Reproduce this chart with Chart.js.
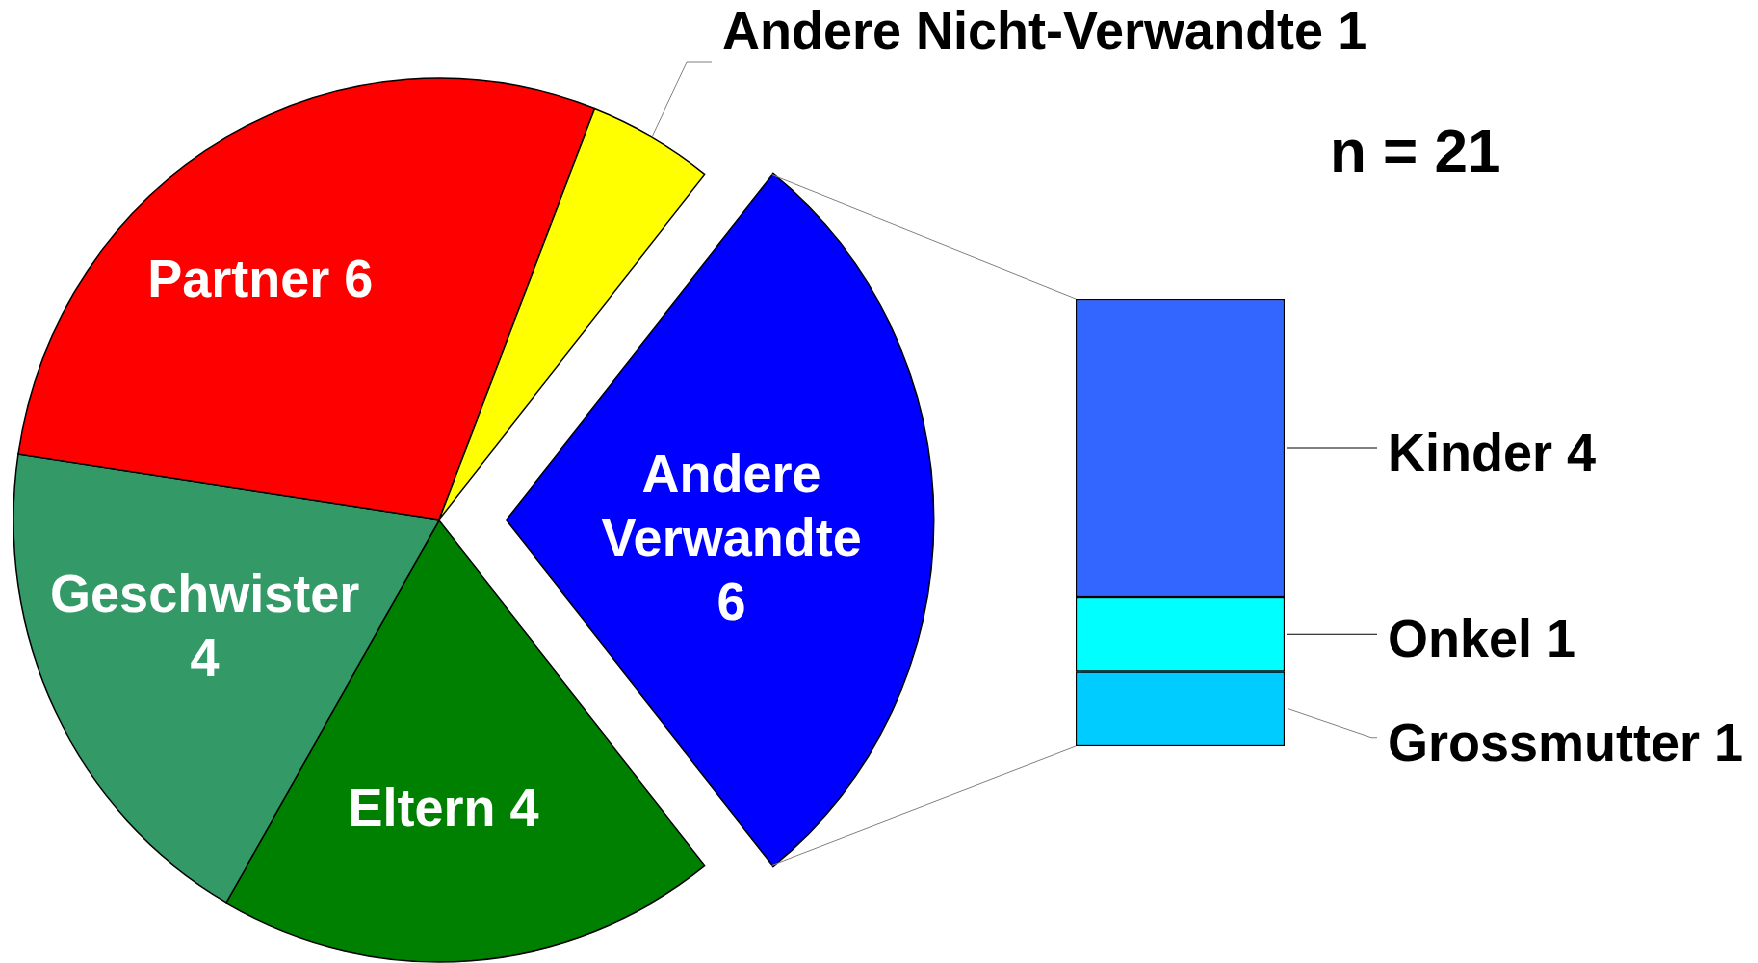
<!DOCTYPE html>
<html lang="de">
<head>
<meta charset="utf-8">
<title>Bezugspersonen</title>
<script src="https://cdn.jsdelivr.net/npm/chart.js@4.4.1/dist/chart.umd.min.js"></script>
<style>
  html, body { margin: 0; padding: 0; background: #fff; overflow: hidden; }
  /* the original picture is slightly squeezed horizontally */
  #stage { position: relative; width: 1824px; height: 963px; transform: scaleX(0.963); transform-origin: 0 0; }
  .layer { position: absolute; left: 0; top: 0; width: 1824px; height: 963px; }
</style>
</head>
<body>
<div id="stage">
  <div class="layer"><canvas id="pieChart"></canvas></div>
  <div class="layer"><canvas id="barChart"></canvas></div>
</div>
<script>
// pie: clockwise, starting with the exploded slice
const pieLabels = ['Andere Verwandte', 'Eltern', 'Geschwister', 'Partner', 'Andere Nicht-Verwandte'];
const pieValues = [6, 4, 4, 6, 1];
const pieColors = ['#0000ff', '#008000', '#339966', '#ff0000', '#ffff00'];

// bar of the exploded slice, bottom to top
const barLabels = ['Grossmutter', 'Onkel', 'Kinder'];
const barValues = [1, 1, 4];
const barColors = ['#00ccff', '#00ffff', '#3366ff'];

const FONT = '"Liberation Sans", Arial, Helvetica, sans-serif';
const EXPLODE = 280;   // arc offset option (drawn at a quarter of it)

// label placement inside the pie: angle nudge (deg) and distance (fraction of radius)
const labelNudge = [4.2, 3.4, 2.3, -7.5, 0];
const labelDist = [0.53, 0.65, 0.60, 0.69, 0];
const labelWrap = [true, false, true, false, false];

const total = pieValues.reduce((a, b) => a + b, 0);
const barTotal = barValues.reduce((a, b) => a + b, 0);
const startRotation = 90 - pieValues[0] / total * 180;

function drawLines(ctx, lines, x, y, lh){
  const top = y - (lines.length - 1) * lh / 2;
  lines.forEach((t, k) => ctx.fillText(t, x, top + k * lh + 19));
}

const pieLabelPlugin = {
  id: 'pieLabels',
  afterDraw(chart){
    const ctx = chart.ctx;
    const arcs = chart.getDatasetMeta(0).data;
    ctx.save();
    ctx.font = 'bold 54px ' + FONT;
    ctx.textAlign = 'center';
    ctx.textBaseline = 'alphabetic';
    arcs.forEach((arc, i) => {
      const mid = (arc.startAngle + arc.endAngle) / 2;
      const off = (arc.options.offset || 0) / 4;
      const cx = arc.x + Math.cos(mid) * off;
      const cy = arc.y + Math.sin(mid) * off;
      const R = arc.outerRadius;
      const text = pieLabels[i] + ' ' + pieValues[i];
      if (i === pieValues.length - 1) {
        // small slice: label outside with leader line
        const sx = cx + Math.cos(mid) * R, sy = cy + Math.sin(mid) * R;
        ctx.strokeStyle = '#808080';
        ctx.lineWidth = 1;
        ctx.beginPath();
        ctx.moveTo(sx, sy);
        ctx.lineTo(713, 62);
        ctx.lineTo(739, 62);
        ctx.stroke();
        ctx.fillStyle = '#000';
        ctx.textAlign = 'left';
        ctx.fillText(text, 750, 49);
        ctx.textAlign = 'center';
        return;
      }
      const a = mid + labelNudge[i] * Math.PI / 180;
      const lx = cx + Math.cos(a) * R * labelDist[i];
      const ly = cy + Math.sin(a) * R * labelDist[i];
      ctx.fillStyle = '#fff';
      drawLines(ctx, labelWrap[i] ? text.split(' ') : [text], lx, ly, 64);
    });
    ctx.restore();
  }
};

const pieChart = new Chart(document.getElementById('pieChart'), {
  type: 'pie',
  data: {
    labels: pieLabels,
    datasets: [{
      data: pieValues,
      backgroundColor: pieColors,
      borderColor: '#000',
      borderWidth: 1.5,
      borderJoinStyle: 'miter',
      offset: pieValues.map((v, i) => i === 0 ? EXPLODE : 0),
      rotation: startRotation,
      radius: 442
    }]
  },
  options: {
    responsive: true,
    maintainAspectRatio: false,
    animation: false,
    events: [],
    layout: { padding: { left: 0, right: 912, top: 77, bottom: 0 } },
    plugins: { legend: { display: false }, tooltip: { enabled: false } }
  },
  plugins: [pieLabelPlugin]
});

const barLabelPlugin = {
  id: 'barLabels',
  afterDraw(chart){
    const ctx = chart.ctx;
    const blue = pieChart.getDatasetMeta(0).data[0];
    const mid = (blue.startAngle + blue.endAngle) / 2;
    const off = (blue.options.offset || 0) / 4;
    const bcx = blue.x + Math.cos(mid) * off, bcy = blue.y + Math.sin(mid) * off;
    const R = blue.outerRadius;
    const topBar = chart.getDatasetMeta(barValues.length - 1).data[0];
    const botBar = chart.getDatasetMeta(0).data[0];
    const left = topBar.x - topBar.width / 2;
    const right = topBar.x + topBar.width / 2;

    ctx.save();
    // series lines from the exploded slice to the bar
    ctx.strokeStyle = '#808080';
    ctx.lineWidth = 1;
    ctx.beginPath();
    ctx.moveTo(bcx + Math.cos(blue.startAngle) * R, bcy + Math.sin(blue.startAngle) * R);
    ctx.lineTo(left, topBar.y);
    ctx.moveTo(bcx + Math.cos(blue.endAngle) * R, bcy + Math.sin(blue.endAngle) * R);
    ctx.lineTo(left, botBar.base);
    ctx.stroke();

    // bar labels
    ctx.font = 'bold 54px ' + FONT;
    ctx.textAlign = 'left';
    ctx.textBaseline = 'alphabetic';
    ctx.fillStyle = '#000';
    barLabels.forEach((lab, i) => {
      const el = chart.getDatasetMeta(i).data[0];
      const my = (el.y + el.base) / 2;
      ctx.beginPath();
      if (i === 0) {
        ctx.strokeStyle = '#808080';
        ctx.moveTo(right + 4, my);
        ctx.lineTo(1424, my + 29);
        ctx.lineTo(1430, my + 29);
        ctx.stroke();
        ctx.fillText(lab + ' ' + barValues[i], 1441, my + 29 + 23);
      } else {
        ctx.strokeStyle = '#000';
        ctx.moveTo(right + 2, my);
        ctx.lineTo(1430, my);
        ctx.stroke();
        ctx.fillText(lab + ' ' + barValues[i], 1441, my + 23);
      }
    });

    // sample size
    ctx.font = 'bold 62px ' + FONT;
    ctx.fillText('n = ' + total, 1381, 172);
    ctx.restore();
  }
};

const barChart = new Chart(document.getElementById('barChart'), {
  type: 'bar',
  data: {
    labels: [''],
    datasets: barLabels.map((lab, i) => ({
      label: lab,
      data: [barValues[i]],
      backgroundColor: barColors[i],
      borderColor: '#000',
      borderWidth: 1.5,
      borderSkipped: false,
      barPercentage: 1,
      categoryPercentage: 1
    }))
  },
  options: {
    responsive: true,
    maintainAspectRatio: false,
    animation: false,
    events: [],
    layout: { padding: { left: 1117, right: 490, top: 299, bottom: 217 } },
    scales: {
      x: { display: false, stacked: true },
      y: { display: false, stacked: true, min: 0, max: barTotal }
    },
    plugins: { legend: { display: false }, tooltip: { enabled: false } }
  },
  plugins: [barLabelPlugin]
});
</script>
</body>
</html>
